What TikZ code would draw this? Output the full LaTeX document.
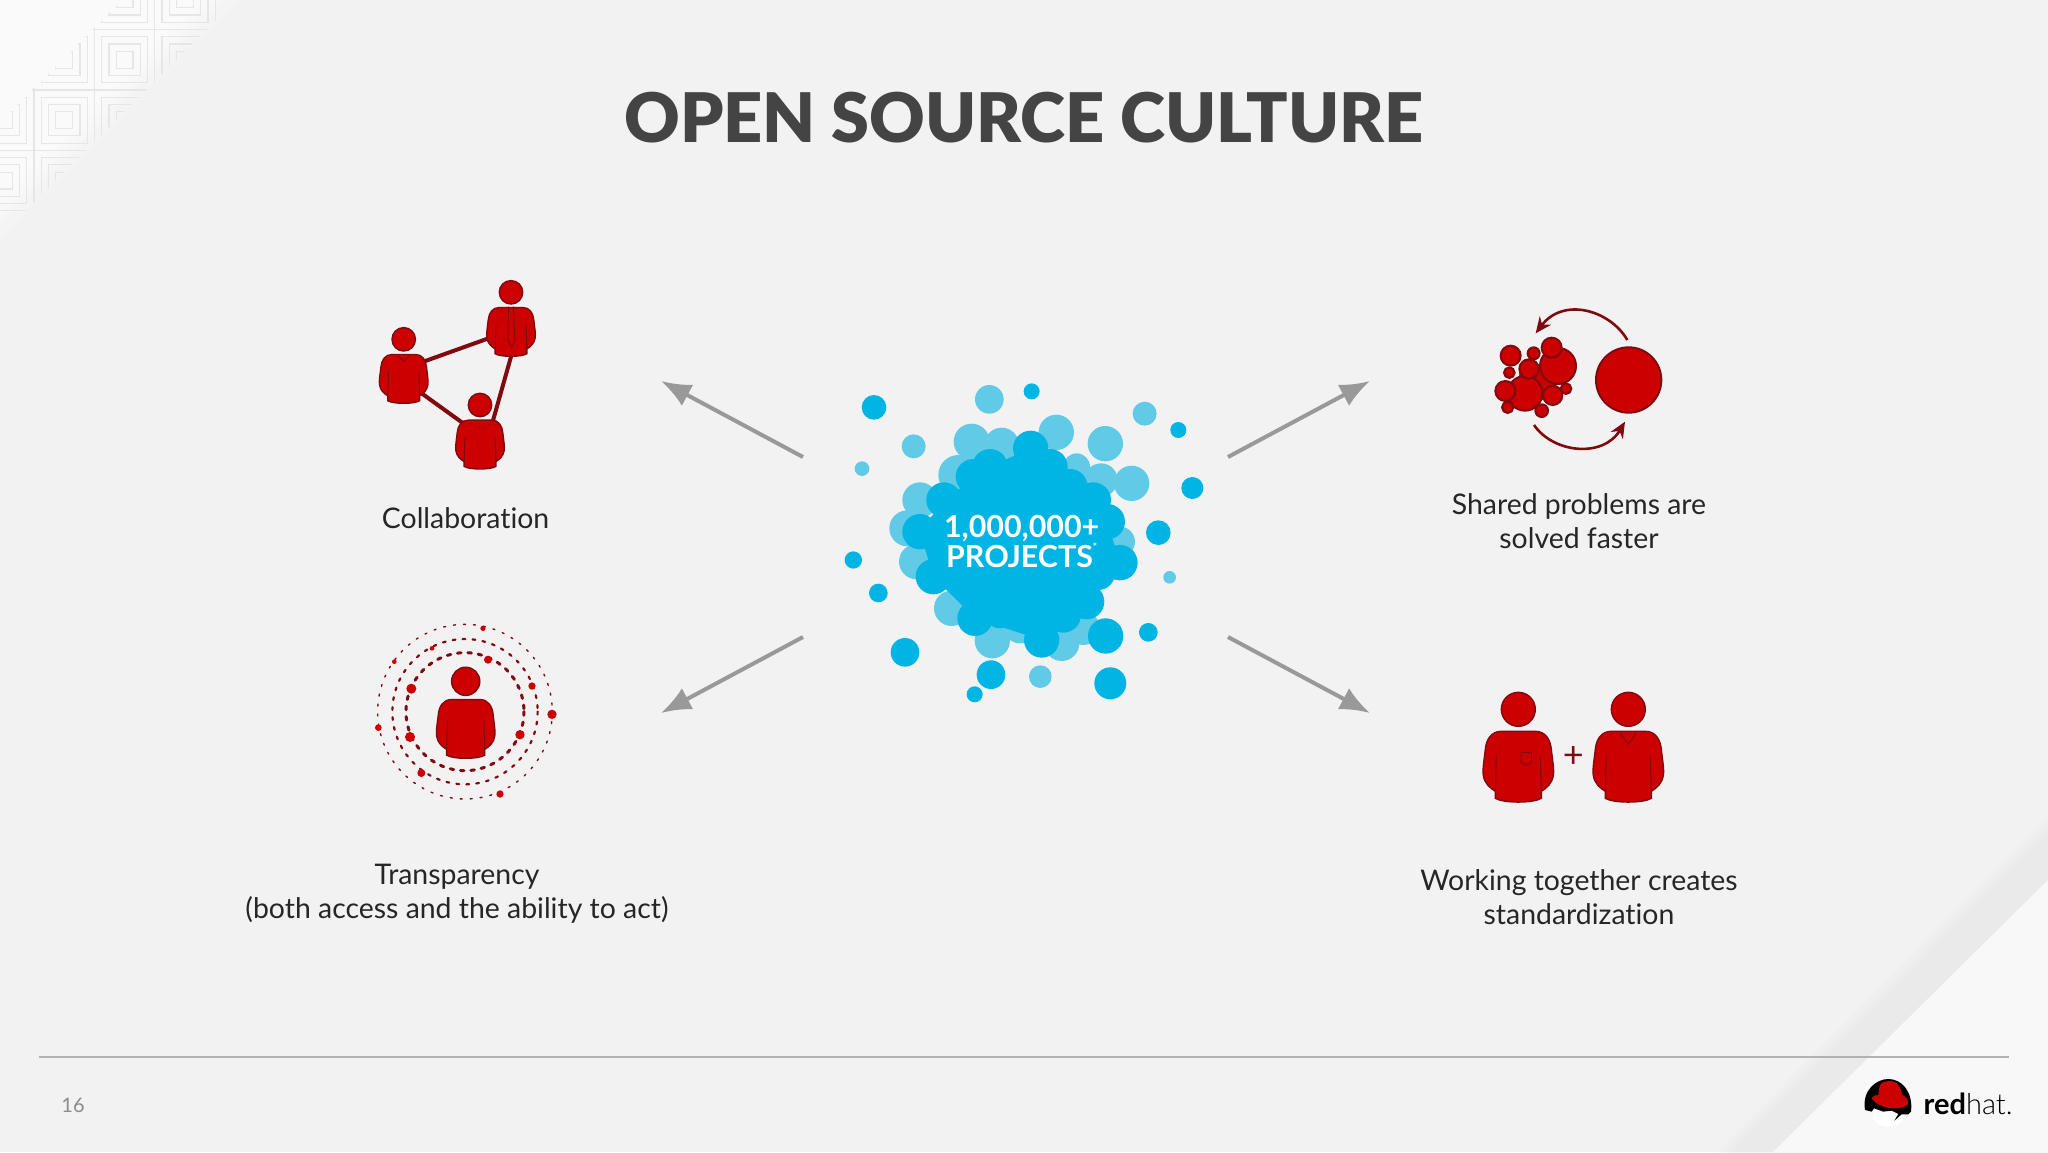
\documentclass[tikz,border=0pt]{standalone}
\usepackage{fontspec}
\setmainfont{Lato}[Ligatures=CommonOff]
\usetikzlibrary{arrows.meta}
\definecolor{slidebg}{HTML}{F2F2F3}
\definecolor{cornerwhite}{HTML}{FAFAFA}
\definecolor{tileline}{HTML}{E6E6E6}
\definecolor{bandgrey}{HTML}{EAEAEB}
\definecolor{lightcorner}{HTML}{F8F8F9}
\definecolor{hatred}{HTML}{CC0000}
\definecolor{darkred}{HTML}{7F0A10}
\definecolor{blobdark}{HTML}{00B4E4}
\definecolor{bloblight}{HTML}{61CAE6}
\definecolor{titlegrey}{HTML}{444444}
\definecolor{spokegrey}{HTML}{999999}
\tikzset{
  redshape/.style={fill=hatred,draw=darkred,line width=0.7pt},
  label/.style={text=black!85,font=\fontsize{14.2}{17}\selectfont,align=center},
  spoke/.style={draw=spokegrey,line width=2pt,-{Latex[length=15pt,width=12pt]}},
  person/.pic={
    \filldraw[redshape] (0,0) circle (17);
    \filldraw[redshape] (-17,22) .. controls (-27,22) and (-32,30) .. (-33,40)
      .. controls (-34,50) and (-36,60) .. (-35,66) .. controls (-34,74) and (-28,79) .. (-23,82)
      -- (-23,89) .. controls (-15,94) and (15,94) .. (23,89) -- (23,82)
      .. controls (28,79) and (34,74) .. (35,66) .. controls (36,60) and (34,50) .. (33,40)
      .. controls (32,30) and (27,22) .. (17,22) -- cycle;
    \draw[darkred,line width=0.5pt] (-22,47) -- (-23,82) (22,47) -- (23,82);
  }
}
\begin{document}
\begin{tikzpicture}[x=0.5pt,y=-0.5pt]
  \useasboundingbox (0,0) rectangle (2048,1152);
  \fill[slidebg] (0,0) rectangle (2048,1152);
  % corner pattern
  \foreach \d in {0,4,...,40}
    \fill[cornerwhite!\the\numexpr\d*5/2\relax!slidebg] (0,0) -- (244-\d,0) -- (0,244-\d) -- cycle;
  \begin{scope}
    \clip (122,0) -- (236,0) -- (0,236) -- (0,122) -- cycle;
    \foreach \x in {-1,0,1,2,3}
      \foreach \y in {-1,0,1,2,3}
        \foreach \s in {30.2,23,15.7,8.4}
          \draw[tileline,line width=0.6pt,xshift={(\x*60.4+3.8)*0.5pt},yshift={-(\y*60.4-0.7)*0.5pt}] (-\s,-\s) rectangle (\s,\s);
  \end{scope}
  % corner band
  \foreach \d in {0,4,...,20}
    \fill[bandgrey!\the\numexpr\d*5\relax!slidebg] (2048,812+\d) -- (2048,1152) -- (1713+\d,1152) -- cycle;
  \fill[lightcorner] (2048,880) -- (2048,1152) -- (1773,1152) -- cycle;
  \node[font=\fontspec{Lato Black}\fontsize{34.2}{40}\selectfont,text=titlegrey] (title) at (1024,118) {OPEN SOURCE CULTURE};
  % project cloud
  \begin{scope}[shift={(820,370)},scale=0.3333]
    \foreach \x/\y/\r in {508/88/43,974/131/36,281/229/36,126/296/22,1049/622/19,661/920/34,
      455/215/54,545/225/52,709/187/53,856/221/53,770/290/40,843/330/50,935/340/53,415/315/60,
      300/390/53,262/475/54,290/575/53,900/515/45,395/715/53,517/812/53,600/770/50,725/820/53,790/775/50}
      \fill[bloblight] (\x,\y) circle (\r);
    \foreach \x/\y/\r in {162/112/37,635/64/24,1075/180/24,1117/354/33,1015/488/37,100/570/26,
      175/669/28,255/847/43,513/914/43,464/973/24,871/940/48,985/787/28,857/798/53,665/810/53,
      632/235/53,510/290/53,460/320/53,690/290/53,750/350/53,820/390/53,862/455/53,900/578/53,
      835/610/50,800/695/53,730/735/53,465/745/53,540/725/50,340/620/53,300/485/53,372/390/53}
      \fill[blobdark] (\x,\y) circle (\r);
    \fill[blobdark] (632,235) -- (750,350) -- (862,455) -- (900,578) -- (800,695) -- (665,810)
      -- (465,745) -- (340,620) -- (300,485) -- (372,390) -- (510,290) -- cycle;
    \node[text=white,font=\bfseries\fontsize{15.2}{14.7}\selectfont,align=center] (hub) at (605,515)
      {1,000,000+\\PROJECTS\raisebox{1.1ex}{\fontsize{5}{5}\selectfont*}};
  \end{scope}
  % spokes
  \coordinate (hubnw) at (803,457);
  \coordinate (hubne) at (1228,457);
  \coordinate (hubsw) at (803,637);
  \coordinate (hubse) at (1228,637);
  \coordinate (collabend) at (661,381);
  \coordinate (sharedend) at (1370,381);
  \coordinate (transpend) at (661,713);
  \coordinate (standardend) at (1370,713);
  \draw[spoke] (hubnw) -- (collabend);
  \draw[spoke] (hubne) -- (sharedend);
  \draw[spoke] (hubsw) -- (transpend);
  \draw[spoke] (hubse) -- (standardend);
  % collaboration
  \coordinate (persona) at (392.9,372.6);
  \coordinate (personb) at (519.3,327.3);
  \coordinate (personc) at (487.3,440.7);
  \draw[darkred,line width=2pt] (persona) -- (personb) -- (personc) -- cycle;
  \begin{scope}[shift={(403.7,339.3)},scale=0.69]
    \pic[transform shape] {person};
    \draw[darkred,line width=0.5pt] (-7.7,24) -- (0,32) -- (7.7,24);
  \end{scope}
  \begin{scope}[shift={(511,292.3)},scale=0.69]
    \pic[transform shape] {person};
    \draw[darkred,line width=0.5pt] (-3.4,20.8) -- (-4.8,69) -- (1,79.7) -- (5.8,69) -- (3.4,20.8);
  \end{scope}
  \begin{scope}[shift={(480,405)},scale=0.69]
    \pic[transform shape] {person};
    \draw[darkred,line width=0.6pt,dotted] (-14.5,26.6) .. controls (-6,36) and (6,36) .. (14.5,26.6);
  \end{scope}
  \node[label] (collab) at (465.6,518) {Collaboration};
  % transparency
  \begin{scope}[shift={(360,610)},scale=0.3333]
    \draw[darkred,line width=1.5pt,line cap=round,dash pattern=on 1.8pt off 3.4pt] (315,305) circle (177);
    \draw[darkred,line width=1.1pt,line cap=round,dash pattern=on 1.4pt off 3.6pt] (315,305) circle (218);
    \draw[darkred,line width=0.7pt,line cap=round,dash pattern=on 1pt off 4pt] (315,305) circle (262);
    \foreach \x/\y/\r in {384/149/12,154/236/15,150/381/15,480/374/14,216/115/7,516/228/11,184/489/12,
      369/55/8,103/155/7,576/313/14,55/353/10,420/552/11}
      \fill[hatred] (\x,\y) circle (\r);
  \end{scope}
  \begin{scope}[shift={(465.7,681.3)},scale=0.83]
    \pic[transform shape] {person};
  \end{scope}
  \node[label] (transp) at (457,893.5) {Transparency\\(both access and the ability to act)};
  % shared problems
  \begin{scope}[shift={(1470,290)},scale=0.3333]
    \fill[hatred] (215,220) -- (280,260) -- (220,330) -- (140,300) -- (150,240) -- cycle;
    \foreach \x/\y/\r in {264/228/54,165/310/52,122/197/30,245/173/30,191/190/18,177/237/29,118/248/16,
      106/303/30,248/316/29,288/296/16,113/352/17,215/362/19,476/270/98}
      \filldraw[fill=hatred,draw=darkred,line width=1pt] (\x,\y) circle (\r);
    \coordinate (bigtop) at (472,150);
    \coordinate (smalltop) at (197,130);
    \coordinate (smallbot) at (192,405);
    \coordinate (bigbot) at (465,395);
    \draw[darkred,line width=1.3pt,-{Stealth[length=8pt,width=7pt]}] (bigtop) .. controls (420,60) and (280,20) .. (smalltop);
    \draw[darkred,line width=1.3pt,-{Stealth[length=8pt,width=7pt]}] (smallbot) .. controls (250,490) and (400,505) .. (bigbot);
  \end{scope}
  \node[label] (shared) at (1579,521) {Shared problems are\\solved faster};
  % standardization
  \begin{scope}[shift={(1518.3,709.3)}]
    \pic {person};
    \draw[darkred,line width=0.5pt] (2.7,43.3) -- (13.3,43.3) -- (13.3,53) -- (8,55.7) -- (2.7,53) -- cycle;
  \end{scope}
  \begin{scope}[shift={(1628.3,709.3)}]
    \pic {person};
    \draw[darkred,line width=0.5pt] (-8,24) -- (0,35) -- (8,24);
  \end{scope}
  \node[text=darkred,font=\fontsize{18}{18}\selectfont] (plus) at (1573.3,757) {+};
  \node[label] (standard) at (1579,897) {Working together creates\\standardization};
  % footer
  \coordinate (rulel) at (39,1057);
  \coordinate (ruler) at (2009,1057);
  \draw[black!30,line width=0.7pt] (rulel) -- (ruler);
  \node[text=black!45,font=\fontsize{10}{12}\selectfont] (page) at (73,1105) {16};
  % logo
  \begin{scope}[shift={(1650,780)},scale=0.3333]
    \fill[white] (715,1005) ellipse (48 and 35);
    \fill[black] (645,990) .. controls (635,930) and (680,897) .. (715,897) .. controls (755,897) and (790,935) .. (783,995)
      -- (775,1003) -- (755,1003) -- (733,1022) -- (745,1002) -- (725,992) -- (700,995) -- (672,985) -- (665,995) -- cycle;
    \fill[hatred] (665,955) .. controls (685,985) and (745,995) .. (772,975) .. controls (778,962) and (770,952) .. (757,945)
      .. controls (752,925) and (745,905) .. (725,903) .. controls (710,905) and (695,900) .. (688,922) -- (685,945) .. controls (675,945) and (668,948) .. (665,955) -- cycle;
    \node[anchor=base west,inner sep=0pt,text=black,font=\fontsize{14.5}{14.5}\selectfont] (logotext) at (820,1005)
      {{\bfseries red}{\fontspec{Lato Light}hat.}};
  \end{scope}
\end{tikzpicture}
\end{document}
